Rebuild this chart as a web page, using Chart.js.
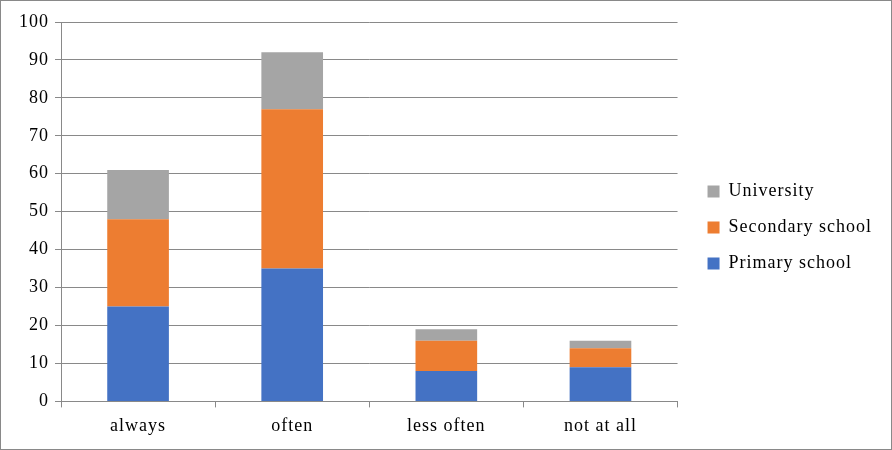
<!DOCTYPE html>
<html>
<head>
<meta charset="utf-8">
<script src="https://cdn.jsdelivr.net/npm/chart.js@4"></script>
<style>
  body { margin: 0; background: #fff; }
  #wrap { width: 890px; height: 448px; border: 1px solid #898989; position: relative; }
</style>
</head>
<body>
<div id="wrap"><canvas id="myChart"></canvas></div>
<script>
const categories = ['always', 'often', 'less often', 'not at all'];
const primary = [25, 35, 8, 9];
const secondary = [23, 42, 8, 5];
const university = [13, 15, 3, 2];
const yTicks = [0, 10, 20, 30, 40, 50, 60, 70, 80, 90, 100];

const serif = { family: "'Liberation Serif', 'Times New Roman', serif", size: 18 };
const gridGray = '#898989';

// le texte Excel est un peu espacé
const espacement = {
  id: 'espacement',
  beforeLayout: function (chart) { chart.ctx.letterSpacing = '1px'; },
  beforeDraw: function (chart) { chart.ctx.letterSpacing = '1px'; }
};

// légende plus large, puis décalée vers la droite (comme dans Excel)
const legendeLarge = {
  id: 'legendeLarge',
  beforeLayout: function (chart) {
    const lg = chart.legend;
    if (lg && !lg._large) {
      const fit = lg.fit;
      lg.fit = function () { fit.call(this); this.width += 21; };
      lg._large = true;
    }
  },
  afterLayout: function (chart) {
    const lg = chart.legend;
    if (!lg) return;
    lg.left += 12; lg.right += 12;
    lg.top -= 6; lg.bottom -= 6;
  }
};

new Chart(document.getElementById('myChart'), {
  type: 'bar',
  data: {
    labels: categories,
    datasets: [
      { label: 'Primary school', data: primary, backgroundColor: '#4472C4' },
      { label: 'Secondary school', data: secondary, backgroundColor: '#ED7D31' },
      { label: 'University', data: university, backgroundColor: '#A5A5A5' }
    ]
  },
  options: {
    responsive: true,
    maintainAspectRatio: false,
    animation: false,
    layout: { padding: { top: 21, right: 0, left: 12, bottom: 4 } },
    datasets: { bar: { categoryPercentage: 0.8, barPercentage: 0.5 } },
    plugins: {
      tooltip: { enabled: false },
      legend: {
        position: 'right',
        reverse: true,
        labels: {
          boxWidth: 12,
          boxHeight: 12,
          padding: 18,
          color: '#000',
          font: serif
        }
      }
    },
    scales: {
      x: {
        stacked: true,
        grid: { drawOnChartArea: false, tickLength: 6, color: gridGray, offset: true },
        border: { color: gridGray },
        ticks: { color: '#000', font: serif, padding: 8 }
      },
      y: {
        stacked: true,
        min: 0,
        max: 100,
        afterBuildTicks: function (axis) {
          axis.ticks = yTicks.map(function (v) { return { value: v }; });
        },
        grid: { color: gridGray, tickLength: 6 },
        border: { color: gridGray },
        ticks: { color: '#000', font: serif, padding: 6 }
      }
    }
  },
  plugins: [espacement, legendeLarge]
});
</script>
</body>
</html>
